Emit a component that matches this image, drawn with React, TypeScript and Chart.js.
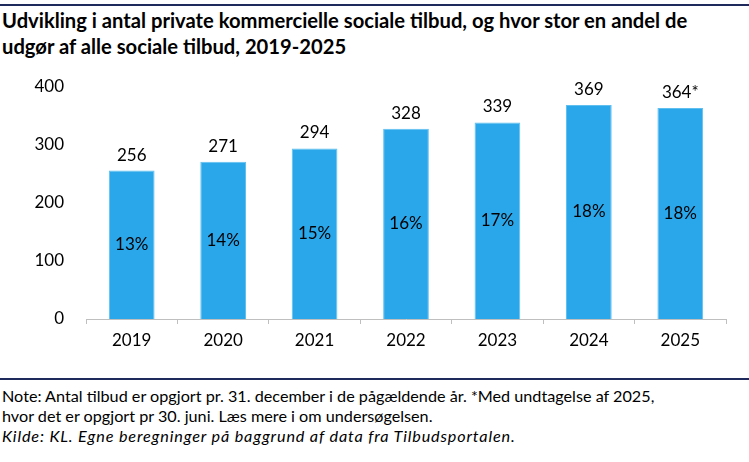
import React, { useEffect, useRef } from "react";
import { Chart, registerables } from "chart.js";

Chart.register(...registerables);

const years = ["2019", "2020", "2021", "2022", "2023", "2024", "2025"];
const counts = [256, 271, 294, 328, 339, 369, 364];
const countLabels = ["256", "271", "294", "328", "339", "369", "364*"];
const shares = ["13%", "14%", "15%", "16%", "17%", "18%", "18%"];
const yTicks = [0, 100, 200, 300, 400];

const FONT = "Lato, 'Noto Sans', sans-serif";

const labelPlugin = {
  id: "barLabels",
  afterDatasetsDraw(chart: any) {
    const { ctx } = chart;
    const meta = chart.getDatasetMeta(0);
    ctx.save();
    ctx.fillStyle = "#000000";
    ctx.font = `17px ${FONT}`;
    ctx.textAlign = "center";
    meta.data.forEach((bar: any, i: number) => {
      ctx.textBaseline = "bottom";
      ctx.fillText(countLabels[i], bar.x, bar.y - 7);
      ctx.textBaseline = "middle";
      ctx.fillText(shares[i], bar.x, (bar.y + bar.base) / 2);
    });
    ctx.restore();
  },
};

export default function App() {
  const ref = useRef<HTMLCanvasElement>(null);
  useEffect(() => {
    document.body.style.margin = "0";
    const chart = new Chart(ref.current!, {
      type: "bar",
      data: {
        labels: years,
        datasets: [
          {
            data: counts,
            backgroundColor: "#2AA7EA",
            borderColor: "#5FC0F0",
            borderWidth: 1,
            barPercentage: 0.5,
            categoryPercentage: 1,
          },
        ],
      },
      options: {
        animation: false,
        responsive: false,
        maintainAspectRatio: false,
        layout: { padding: { top: 27, right: 23, left: 0, bottom: 0 } },
        plugins: { legend: { display: false }, tooltip: { enabled: false } },
        scales: {
          x: {
            grid: {
              display: true,
              drawOnChartArea: false,
              drawTicks: true,
              tickLength: 5,
              color: "#BFBFBF",
              offset: true,
            },
            border: { display: true, color: "#BFBFBF", width: 1 },
            ticks: {
              color: "#000000",
              font: { family: FONT, size: 17 },
              padding: 6,
            },
            afterFit(scale: any) {
              scale.height = 41;
            },
          },
          y: {
            min: 0,
            max: 400,
            afterBuildTicks(scale: any) {
              scale.ticks = yTicks.map((v) => ({ value: v }));
            },
            grid: { display: false },
            border: { display: false },
            ticks: {
              color: "#000000",
              font: { family: FONT, size: 17 },
              padding: 14,
            },
            afterFit(scale: any) {
              scale.width = 86;
            },
          },
        },
      },
      plugins: [labelPlugin],
    });
    return () => chart.destroy();
  }, []);

  const lineStyle: React.CSSProperties = {
    position: "absolute",
    left: 0,
    width: 749,
    height: 2,
    background: "#1F2A5C",
  };

  return (
    <div style={{ position: "relative", width: 749, height: 462, fontFamily: FONT, color: "#000" }}>
      <div style={{ ...lineStyle, top: 4 }} />
      <div
        style={{
          position: "absolute",
          left: 2,
          top: 7,
          width: 747,
          fontSize: 20.2,
          fontWeight: 700,
          lineHeight: "26px",
          whiteSpace: "nowrap",
        }}
      >
        Udvikling i antal private kommercielle sociale tilbud, og hvor stor en andel de
        <br />
        udgør af alle sociale tilbud, 2019-2025
      </div>
      <canvas
        ref={ref}
        width={749}
        height={300}
        style={{ position: "absolute", left: 0, top: 60, width: 749, height: 300 }}
      />
      <div style={{ ...lineStyle, top: 378 }} />
      <div
        style={{
          position: "absolute",
          left: 2,
          top: 386,
          width: 747,
          fontSize: 16.2,
          lineHeight: "20px",
          whiteSpace: "nowrap",
        }}
      >
        Note: Antal tilbud er opgjort pr. 31. december i de pågældende år. *Med undtagelse af 2025,
        <br />
        hvor det er opgjort pr 30. juni. Læs mere i om undersøgelsen.
        <br />
        <i style={{ letterSpacing: "0.85px" }}>
          Kilde: KL. Egne beregninger på baggrund af data fra Tilbudsportalen.
        </i>
      </div>
    </div>
  );
}
